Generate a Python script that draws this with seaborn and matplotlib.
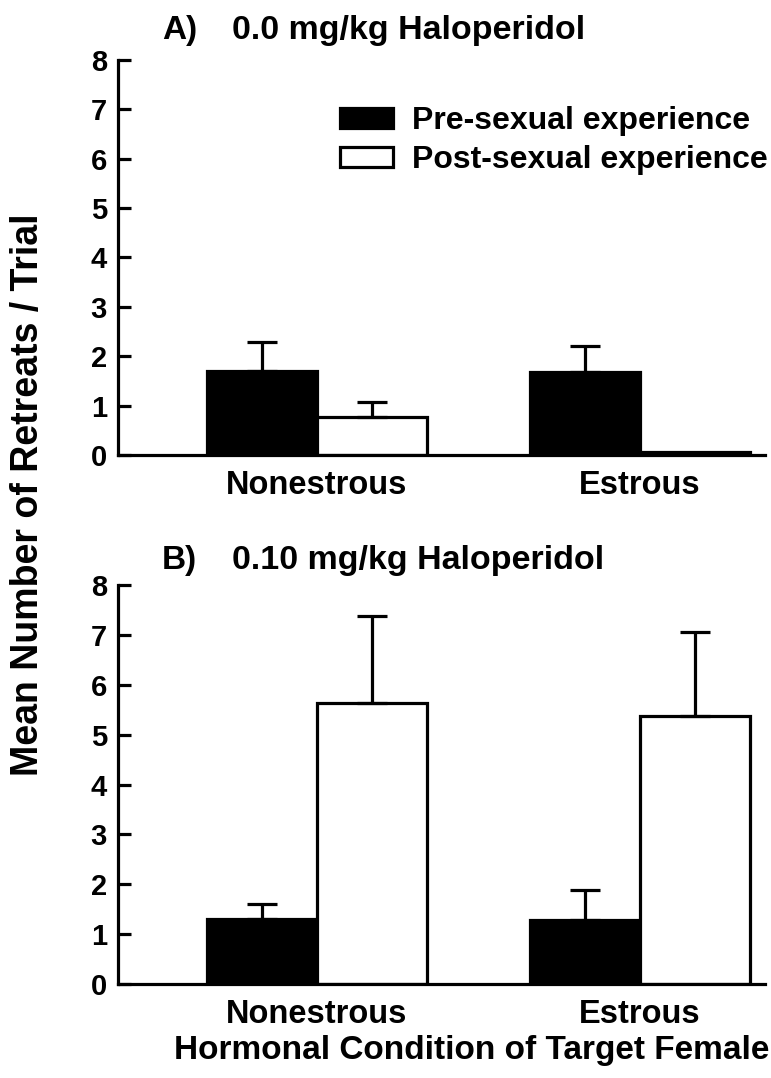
import matplotlib
matplotlib.use("Agg")
import matplotlib.pyplot as plt
from matplotlib.patches import Patch
import numpy as np
import pandas as pd
import seaborn as sns

# Hormonal condition of the target female
conditions = ["Nonestrous", "Estrous"]
experience = ["Pre-sexual experience", "Post-sexual experience"]

# Panel A: 0.0 mg/kg haloperidol
a_pre_mean = [1.70, 1.68]
a_pre_sem = [0.59, 0.52]
a_post_mean = [0.77, 0.06]
a_post_sem = [0.30, 0.0]

# Panel B: 0.10 mg/kg haloperidol
b_pre_mean = [1.30, 1.28]
b_pre_sem = [0.30, 0.60]
b_post_mean = [5.64, 5.37]
b_post_sem = [1.74, 1.68]

yticks = [0, 1, 2, 3, 4, 5, 6, 7, 8]

sns.set_theme(style="white")
plt.rcParams["font.family"] = ["Liberation Sans", "DejaVu Sans"]
plt.rcParams["font.weight"] = "bold"
for key in ["text.color", "axes.labelcolor", "xtick.color", "ytick.color"]:
    plt.rcParams[key] = "black"

LW = 2.3
FS = 21


def panel(ax, pre_mean, pre_sem, post_mean, post_sem):
    df = pd.DataFrame({
        "condition": conditions * 2,
        "experience": [experience[0]] * 2 + [experience[1]] * 2,
        "mean": list(pre_mean) + list(post_mean),
    })
    sns.barplot(data=df, x="condition", y="mean", hue="experience",
                order=conditions, hue_order=experience,
                palette=["black", "white"], edgecolor="black",
                linewidth=LW, width=0.68, errorbar=None, legend=False,
                saturation=1, ax=ax)
    # upper-only error bars from the bar tops
    for cont, sems in zip(ax.containers, [pre_sem, post_sem]):
        for bar, s in zip(cont, sems):
            if s <= 0:
                continue
            x = bar.get_x() + bar.get_width() / 2
            h = bar.get_height()
            ax.errorbar([x], [h], yerr=[[0], [s]], fmt="none",
                        ecolor="black", elinewidth=LW, capsize=11,
                        capthick=LW, zorder=1)
    ax.set_xlim(-0.616, 1.387)
    ax.set_ylim(0, 8)
    ax.set_yticks(yticks)
    ax.set_yticklabels([str(t) for t in yticks], fontsize=FS,
                       fontweight="bold")
    ax.set_xticks(range(len(conditions)))
    ax.set_xticklabels(conditions, fontsize=23.5, fontweight="bold")
    ax.set_xlabel("")
    ax.set_ylabel("")
    for side in ["top", "right"]:
        ax.spines[side].set_visible(False)
    for side in ["left", "bottom"]:
        ax.spines[side].set_linewidth(LW)
        ax.spines[side].set_color("black")
    ax.tick_params(axis="y", direction="in", length=9, width=LW,
                   pad=8, left=True)
    ax.tick_params(axis="x", length=0, pad=11)


fig = plt.figure(figsize=(7.71, 10.78), dpi=100)
W, H = 771, 1078
ax_a = fig.add_axes([0.153, 0.578, 0.839, 0.3664])
ax_b = fig.add_axes([0.153, 0.0872, 0.839, 0.3701])

panel(ax_a, a_pre_mean, a_pre_sem, a_post_mean, a_post_sem)
panel(ax_b, b_pre_mean, b_pre_sem, b_post_mean, b_post_sem)

# panel headings
for tag, dose, ypix in [("A)", "0.0 mg/kg Haloperidol", 30),
                        ("B)", "0.10 mg/kg Haloperidol", 561)]:
    fig.text(162 / W, 1 - ypix / H, tag, ha="left", va="center",
             fontsize=24, fontweight="bold")
    fig.text(232 / W, 1 - ypix / H, dose, ha="left", va="center",
             fontsize=24.5, fontweight="bold")

handles = [Patch(facecolor="black", edgecolor="black", linewidth=LW),
           Patch(facecolor="white", edgecolor="black", linewidth=LW)]
ax_a.legend(handles, experience, loc="upper right", frameon=False,
            prop={"size": 23, "weight": "bold"}, handlelength=1.66,
            handleheight=0.6, handletextpad=0.6, labelspacing=0.28,
            borderpad=0, borderaxespad=0,
            bbox_to_anchor=(768 / W, 1 - 106 / H),
            bbox_transform=fig.transFigure)

fig.text(28 / W, 1 - 495 / H, "Mean Number of Retreats / Trial",
         rotation=90, ha="center", va="center", fontsize=27,
         fontweight="bold")
fig.text(472 / W, 1 - 1051 / H, "Hormonal Condition of Target Female",
         ha="center", va="center", fontsize=24, fontweight="bold")

fig.savefig("out.png", dpi=100)
